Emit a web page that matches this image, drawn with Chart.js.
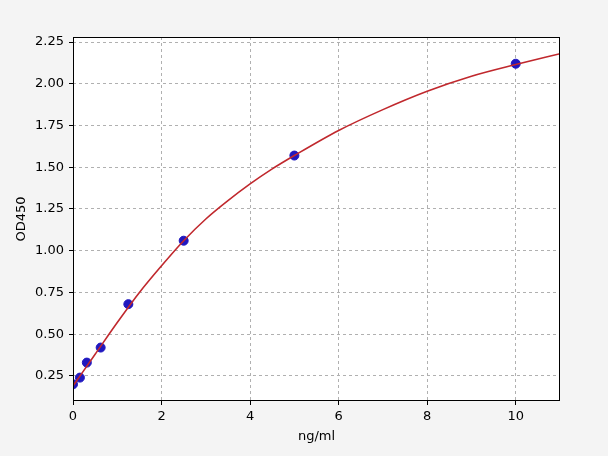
<!DOCTYPE html>
<html>
<head>
<meta charset="utf-8">
<script src="https://cdn.jsdelivr.net/npm/chart.js@4"></script>
<style>
  html, body { margin:0; padding:0; background:#f4f4f4; }
  canvas { display:block; }
</style>
</head>
<body>
<canvas id="curveChart" width="608" height="456"></canvas>
<script>
// standards (ng/ml) and measured OD450
const conc = [0, 0.156, 0.3125, 0.625, 1.25, 2.5, 5, 10];
const od = [0.20, 0.24, 0.33, 0.42, 0.68, 1.06, 1.57, 2.12];

// fitted curve
const fitX = [0, 0.5, 1, 1.5, 2, 2.5, 3, 3.5, 4, 4.5, 5, 6, 7, 8, 9, 10, 11];
const fitY = [0.19, 0.38, 0.57, 0.75, 0.91, 1.06, 1.19, 1.30, 1.40, 1.49, 1.57, 1.72, 1.845, 1.955, 2.045, 2.115, 2.18];

const xTicks = [0, 2, 4, 6, 8, 10];
const yTicks = [0.25, 0.5, 0.75, 1.0, 1.25, 1.5, 1.75, 2.0, 2.25];

const font = {family:"'DejaVu Sans', sans-serif", size:13};

const frame = {
    id:"frame",
    beforeDraw(chart){
        const c = chart.ctx, a = chart.chartArea;
        c.save();
        c.fillStyle = "#f4f4f4";
        c.fillRect(0, 0, chart.width, chart.height);
        c.fillStyle = "#ffffff";
        c.fillRect(a.left, a.top, a.right-a.left, a.bottom-a.top);
        c.restore();
    },
    afterDatasetsDraw(chart){
        const c = chart.ctx, a = chart.chartArea;
        c.save();
        c.strokeStyle = "#000";
        c.lineWidth = 1;
        c.strokeRect(a.left+0.5, a.top+0.5, a.right-a.left-1, a.bottom-a.top-1);
        c.restore();
    }
};

new Chart(document.getElementById("curveChart"), {
    type:"scatter",
    data:{
        datasets:[{
            label:"fit",
            data:fitX.map((x,i)=>({x:x, y:fitY[i]})),
            showLine:true,
            borderColor:"#c0282d",
            borderWidth:1.6,
            pointRadius:0,
            cubicInterpolationMode:"monotone",
            order:0
        },{
            label:"standards",
            data:conc.map((x,i)=>({x:x, y:od[i]})),
            backgroundColor:"#2018c0",
            borderColor:"#2018c0",
            pointRadius:4.5,
            order:1
        }]
    },
    options:{
        responsive:false,
        devicePixelRatio:1,
        animation:false,
        layout:{padding:{left:12, top:37, right:48, bottom:8}},
        plugins:{legend:{display:false}, tooltip:{enabled:false}},
        scales:{
            x:{
                type:"linear",
                min:0, max:11,
                afterBuildTicks:s=>{ s.ticks = xTicks.map(v=>({value:v})); },
                afterFit:s=>{ s.height = 47; },
                ticks:{color:"#000", font:font, padding:4},
                grid:{color:"#b0b0b0", tickColor:"#000", tickLength:4, lineWidth:1},
                border:{display:false, dash:[3,3]},
                title:{display:true, text:"ng/ml", color:"#000", font:font, padding:{top:2, bottom:4}}
            },
            y:{
                type:"linear",
                min:0.1, max:2.28,
                afterBuildTicks:s=>{ s.ticks = yTicks.map(v=>({value:v})); },
                afterFit:s=>{ s.width = 61; },
                ticks:{color:"#000", font:font, padding:5, callback:v=>v.toFixed(2)},
                grid:{color:"#b0b0b0", tickColor:"#000", tickLength:4, lineWidth:1},
                border:{display:false, dash:[3,3]},
                title:{display:true, text:"OD450", color:"#000", font:font, padding:{top:2, bottom:4}}
            }
        }
    },
    plugins:[frame]
});
</script>
</body>
</html>
